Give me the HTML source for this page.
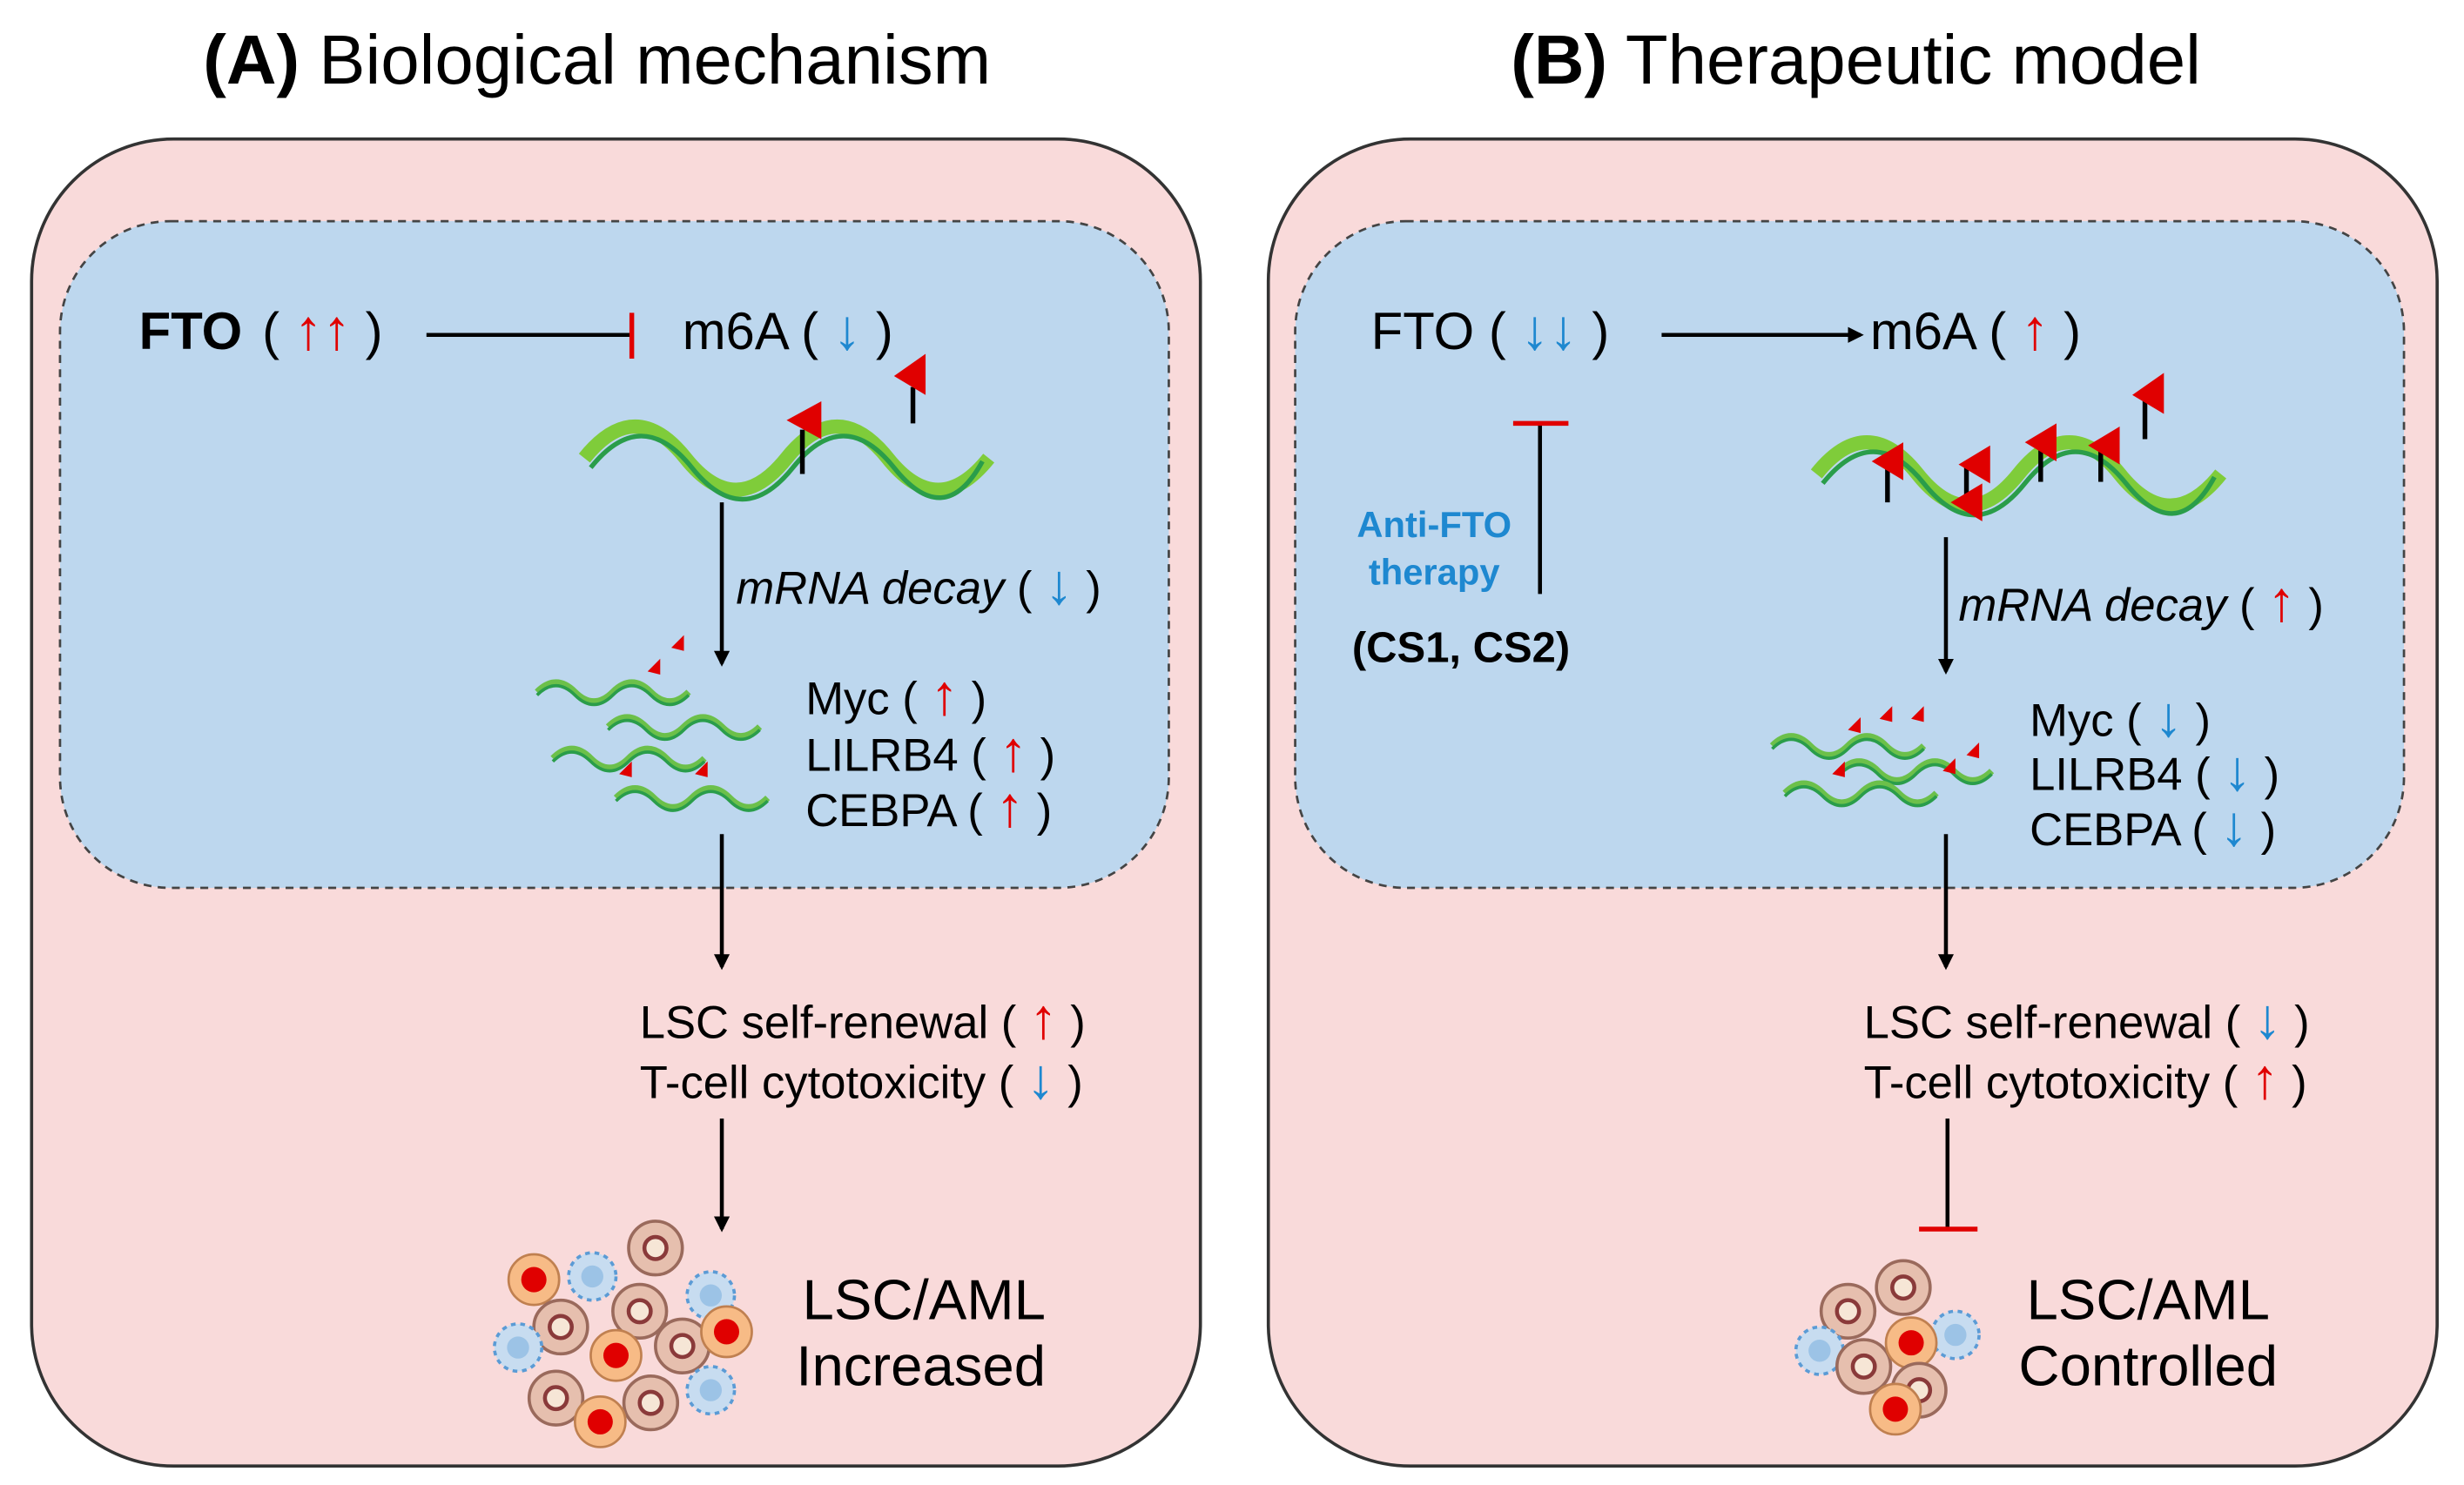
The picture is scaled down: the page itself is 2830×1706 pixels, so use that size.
<!DOCTYPE html>
<html><head><meta charset="utf-8"><style>
html,body{margin:0;padding:0;background:#fff;}
svg{display:block;}
text{font-family:"Liberation Sans",Arial,sans-serif;}
.ar{font-size:36px;font-weight:bold;}
</style></head><body>
<svg width="2830" height="1706" viewBox="0 0 1560 940" preserveAspectRatio="none" xmlns="http://www.w3.org/2000/svg">
<defs>
<marker id="ah" markerWidth="10" markerHeight="10" refX="8" refY="5" orient="auto" markerUnits="userSpaceOnUse" viewBox="0 0 10 10"><path d="M0,0 L10,5 L0,10 z" fill="#000"/></marker>
<g id="cellB"><circle r="17" fill="#e6bfae" stroke="#9a6a5c" stroke-width="2"/><circle r="7" fill="#f6e6d6" stroke="#8a3a3a" stroke-width="2.5"/></g>
<g id="cellO"><circle r="16" fill="#f7bb86" stroke="#c08050" stroke-width="1.5"/><circle r="8" fill="#e00000"/></g>
<g id="cellL"><circle r="15" fill="#c7dcf0" stroke="#5b9bd5" stroke-width="2" stroke-dasharray="3 3"/><circle r="7" fill="#9cc3e6"/></g>
<g id="mini"><path d="M0,10 q12,-12 24,0 t24,0 t24,0 t24,0" fill="none" stroke="#6cc04a" stroke-width="4"/><path d="M0,12 q12,-12 24,0 t24,0 t24,0 t24,0" fill="none" stroke="#2a9d4a" stroke-width="2"/></g>
</defs>
<text x="378" y="53" font-size="44" text-anchor="middle"><tspan font-weight="bold">(A)</tspan> Biological mechanism</text>
<text x="1175" y="53" font-size="44" text-anchor="middle"><tspan font-weight="bold">(B)</tspan> Therapeutic model</text>

<!-- Panel A -->
<rect x="20" y="88" width="740" height="840" rx="90" fill="#f9dada" stroke="#333" stroke-width="2"/>
<rect x="38" y="140" width="702" height="422" rx="70" fill="#bdd7ee" stroke="#444" stroke-width="1.5" stroke-dasharray="5 4"/>
<text x="88" y="221" font-size="33" font-weight="bold">FTO</text>
<text x="166" y="221" font-size="33">( <tspan class="ar" fill="#e00000">↑↑</tspan> )</text>
<line x1="270" y1="212" x2="400" y2="212" stroke="#000" stroke-width="2.5"/>
<line x1="400" y1="198" x2="400" y2="227" stroke="#e00000" stroke-width="3"/>
<text x="432" y="221" font-size="33">m6A ( <tspan class="ar" fill="#1e88d0">↓</tspan> )</text>
<path d="M370,290 q32,-40 64,0 t64,0 t64,0 t64,0" fill="none" stroke="#7fcc3a" stroke-width="9"/>
<path d="M374,296 q32,-40 64,0 t64,0 t64,0 t56,-4" fill="none" stroke="#2a9d4a" stroke-width="3"/>
<line x1="508" y1="272" x2="508" y2="300" stroke="#000" stroke-width="3"/><path d="M498,266 l22,-12 v24 z" fill="#e00000"/>
<line x1="578" y1="245" x2="578" y2="268" stroke="#000" stroke-width="3"/><path d="M566,238 l20,-14 v26 z" fill="#e00000"/>
<line x1="457" y1="318" x2="457" y2="420" stroke="#000" stroke-width="2.5" marker-end="url(#ah)"/>
<text x="466" y="382" font-size="29" font-style="italic">mRNA decay <tspan font-style="normal">( <tspan class="ar" fill="#1e88d0">↓</tspan> )</tspan></text>
<use href="#mini" x="340" y="428"/><use href="#mini" x="385" y="450"/><use href="#mini" x="350" y="470"/><use href="#mini" x="390" y="495"/>
<path d="M410,425 l8,-8 v10z M425,410 l8,-8 v10z M392,490 l8,-8 v10z M440,490 l8,-8 v10z" fill="#e00000"/>
<text x="510" y="452" font-size="29">Myc ( <tspan class="ar" fill="#e00000">↑</tspan> )</text>
<text x="510" y="488" font-size="29">LILRB4 ( <tspan class="ar" fill="#e00000">↑</tspan> )</text>
<text x="510" y="523" font-size="29">CEBPA ( <tspan class="ar" fill="#e00000">↑</tspan> )</text>
<line x1="457" y1="528" x2="457" y2="612" stroke="#000" stroke-width="2.5" marker-end="url(#ah)"/>
<text x="405" y="657" font-size="29">LSC self-renewal  ( <tspan class="ar" fill="#e00000">↑</tspan> )</text>
<text x="405" y="695" font-size="29">T-cell  cytotoxicity  ( <tspan class="ar" fill="#1e88d0">↓</tspan> )</text>
<line x1="457" y1="708" x2="457" y2="778" stroke="#000" stroke-width="2.5" marker-end="url(#ah)"/>
<use href="#cellL" x="375" y="808"/><use href="#cellB" x="415" y="790"/><use href="#cellO" x="338" y="810"/>
<use href="#cellL" x="450" y="820"/><use href="#cellB" x="355" y="840"/><use href="#cellB" x="405" y="830"/>
<use href="#cellL" x="328" y="853"/><use href="#cellO" x="390" y="858"/><use href="#cellB" x="432" y="852"/><use href="#cellO" x="460" y="843"/>
<use href="#cellB" x="352" y="885"/><use href="#cellB" x="412" y="888"/><use href="#cellO" x="380" y="900"/><use href="#cellL" x="450" y="880"/>
<text x="508" y="835" font-size="36">LSC/AML</text>
<text x="504" y="877" font-size="36">Increased</text>

<!-- Panel B -->
<rect x="803" y="88" width="740" height="840" rx="90" fill="#f9dada" stroke="#333" stroke-width="2"/>
<rect x="820" y="140" width="702" height="422" rx="70" fill="#bdd7ee" stroke="#444" stroke-width="1.5" stroke-dasharray="5 4"/>
<text x="868" y="221" font-size="33">FTO ( <tspan class="ar" fill="#1e88d0">↓↓</tspan> )</text>
<line x1="1052" y1="212" x2="1178" y2="212" stroke="#000" stroke-width="2.5" marker-end="url(#ah)"/>
<text x="1184" y="221" font-size="33">m6A ( <tspan class="ar" fill="#e00000">↑</tspan> )</text>
<line x1="975" y1="268" x2="975" y2="376" stroke="#000" stroke-width="2.5"/>
<line x1="958" y1="268" x2="993" y2="268" stroke="#e00000" stroke-width="3"/>
<text x="908" y="340" font-size="23" font-weight="bold" fill="#1e88d0" text-anchor="middle">Anti-FTO</text>
<text x="908" y="370" font-size="23" font-weight="bold" fill="#1e88d0" text-anchor="middle">therapy</text>
<text x="925" y="419" font-size="27" font-weight="bold" text-anchor="middle">(CS1, CS2)</text>
<path d="M1150,300 q32,-40 64,0 t64,0 t64,0 t64,0" fill="none" stroke="#7fcc3a" stroke-width="9"/>
<path d="M1154,306 q32,-40 64,0 t64,0 t64,0 t56,-4" fill="none" stroke="#2a9d4a" stroke-width="3"/>
<line x1="1195" y1="292" x2="1195" y2="318" stroke="#000" stroke-width="3"/>
<line x1="1245" y1="292" x2="1245" y2="315" stroke="#000" stroke-width="3"/>
<line x1="1292" y1="282" x2="1292" y2="305" stroke="#000" stroke-width="3"/>
<line x1="1330" y1="284" x2="1330" y2="305" stroke="#000" stroke-width="3"/>
<line x1="1358" y1="252" x2="1358" y2="278" stroke="#000" stroke-width="3"/>
<path d="M1185,292 l20,-12 v24z M1235,318 l20,-12 v24z M1282,280 l20,-12 v24z M1322,282 l20,-12 v24z M1350,250 l20,-14 v26z M1240,294 l20,-12 v24z" fill="#e00000"/>
<line x1="1232" y1="340" x2="1232" y2="425" stroke="#000" stroke-width="2.5" marker-end="url(#ah)"/>
<text x="1240" y="393" font-size="29" font-style="italic">mRNA decay <tspan font-style="normal">( <tspan class="ar" fill="#e00000">↑</tspan> )</tspan></text>
<use href="#mini" x="1122" y="462"/><use href="#mini" x="1165" y="478"/><use href="#mini" x="1130" y="492"/>
<path d="M1170,462 l8,-8 v10z M1190,455 l8,-8 v10z M1210,455 l8,-8 v10z M1160,490 l8,-8 v10z M1230,488 l8,-8 v10z M1245,478 l8,-8 v10z" fill="#e00000"/>
<text x="1285" y="466" font-size="29">Myc  ( <tspan class="ar" fill="#1e88d0">↓</tspan> )</text>
<text x="1285" y="500" font-size="29">LILRB4 ( <tspan class="ar" fill="#1e88d0">↓</tspan> )</text>
<text x="1285" y="535" font-size="29">CEBPA ( <tspan class="ar" fill="#1e88d0">↓</tspan> )</text>
<line x1="1232" y1="528" x2="1232" y2="612" stroke="#000" stroke-width="2.5" marker-end="url(#ah)"/>
<text x="1180" y="657" font-size="29">LSC self-renewal  ( <tspan class="ar" fill="#1e88d0">↓</tspan> )</text>
<text x="1180" y="695" font-size="29">T-cell  cytotoxicity  ( <tspan class="ar" fill="#e00000">↑</tspan> )</text>
<line x1="1233" y1="708" x2="1233" y2="778" stroke="#000" stroke-width="2.5"/>
<line x1="1215" y1="778" x2="1252" y2="778" stroke="#e00000" stroke-width="3"/>
<use href="#cellB" x="1170" y="830"/><use href="#cellB" x="1205" y="815"/><use href="#cellL" x="1238" y="845"/>
<use href="#cellL" x="1152" y="855"/><use href="#cellB" x="1180" y="865"/><use href="#cellO" x="1210" y="850"/>
<use href="#cellB" x="1215" y="880"/><use href="#cellO" x="1200" y="892"/>
<text x="1283" y="835" font-size="36">LSC/AML</text>
<text x="1278" y="877" font-size="36">Controlled</text>
</svg>
</body></html>
